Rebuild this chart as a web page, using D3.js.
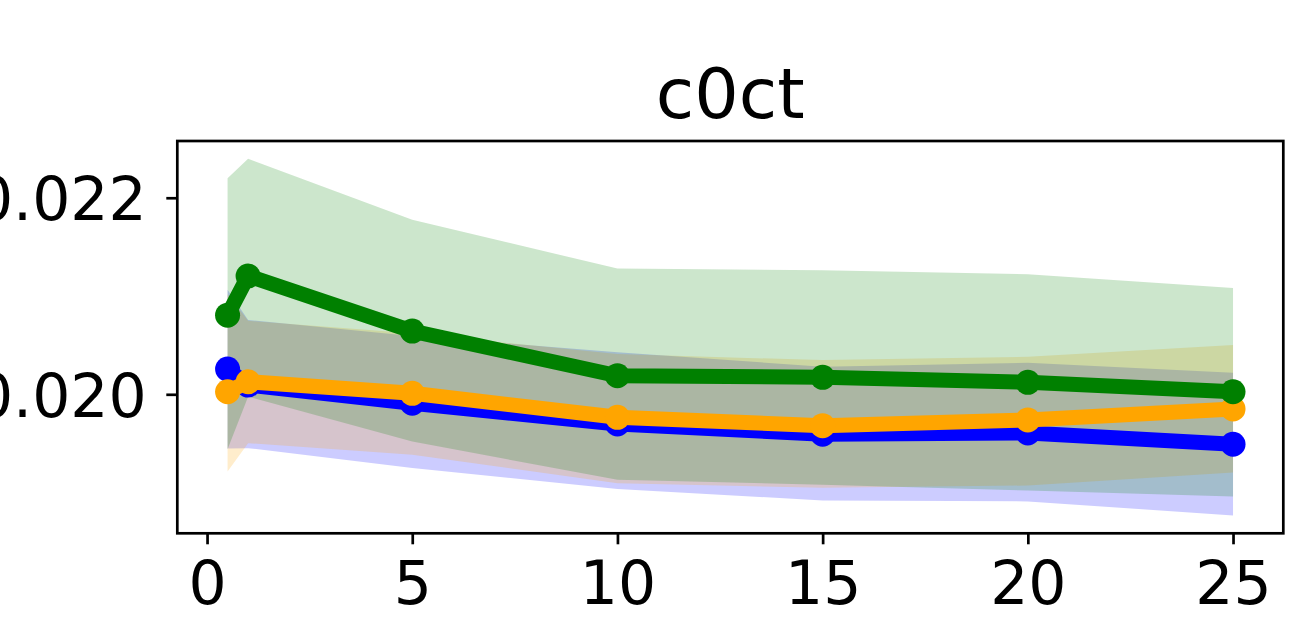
<!DOCTYPE html>
<html>
<head>
<meta charset="utf-8">
<script src="https://cdn.jsdelivr.net/npm/d3@7"></script>
<style>
  html, body { margin: 0; padding: 0; background: #fff; }
  svg { display: block; font-family: "DejaVu Sans", sans-serif; }
</style>
</head>
<body>
<svg id="chart" width="1305" height="635"></svg>
<script>
// Sample points along the x axis
const xs = [0.5, 1, 5, 10, 15, 20, 25];

// Blue series: mean with lower / upper envelope
const blueMean  = [0.020257, 0.020094, 0.019909, 0.019698, 0.019594, 0.019607, 0.019492];
const blueUpper = [0.021064, 0.020756, 0.020592, 0.020429, 0.020280, 0.020321, 0.020219];
const blueLower = [0.019448, 0.019452, 0.019249, 0.019036, 0.018920, 0.018910, 0.018767];

// Orange series
const orangeMean  = [0.020026, 0.020128, 0.020010, 0.019766, 0.019681, 0.019739, 0.019851];
const orangeUpper = [0.021018, 0.020748, 0.020622, 0.020409, 0.020348, 0.020382, 0.020501];
const orangeLower = [0.019214, 0.019503, 0.019384, 0.019096, 0.019049, 0.019072, 0.019204];

// Green series
const greenMean  = [0.020805, 0.021204, 0.020643, 0.020189, 0.020173, 0.020122, 0.020026];
const greenUpper = [0.022199, 0.022396, 0.021777, 0.021279, 0.021262, 0.021221, 0.021082];
const greenLower = [0.019442, 0.019976, 0.019519, 0.019130, 0.019079, 0.019021, 0.018960];

// Axis ticks
const xTicks = [0, 5, 10, 15, 20, 25];
const yTicks = [0.020, 0.022];
const title = "c0ct";

const series = [
  { color: "#0000ff", mean: blueMean,   lo: blueLower,   hi: blueUpper },
  { color: "#ffa500", mean: orangeMean, lo: orangeLower, hi: orangeUpper },
  { color: "#008000", mean: greenMean,  lo: greenLower,  hi: greenUpper }
];

// Plot frame
const frame = { left: 177.3, right: 1283.3, top: 141, bottom: 533.3 };
const svg = d3.select("#chart");

// Domains with a 5% margin on each side
function padded(lo, hi) {
  const m = (hi - lo) * 0.05;
  return [lo - m, hi + m];
}
const xExt = d3.extent(xs);
const allY = series.flatMap(s => s.lo.concat(s.hi, s.mean));
const yExt = d3.extent(allY);

const x = d3.scaleLinear().domain(padded(xExt[0], xExt[1])).range([frame.left, frame.right]);
const y = d3.scaleLinear().domain(padded(yExt[0], yExt[1])).range([frame.bottom, frame.top]);

const plot = svg.append("g");

// Shaded envelopes first, all beneath the lines
const area = d3.area()
  .x(d => x(d.x))
  .y0(d => y(d.lo))
  .y1(d => y(d.hi));

series.forEach(s => {
  const pts = xs.map((v, i) => ({ x: v, lo: s.lo[i], hi: s.hi[i] }));
  plot.append("path")
    .datum(pts)
    .attr("d", area)
    .attr("fill", s.color)
    .attr("fill-opacity", 0.2)
    .attr("stroke", "none");
});

// Mean lines with markers
const line = d3.line().x(d => x(d.x)).y(d => y(d.y));
series.forEach(s => {
  const pts = xs.map((v, i) => ({ x: v, y: s.mean[i] }));
  const g = plot.append("g");
  g.append("path")
    .datum(pts)
    .attr("d", line)
    .attr("fill", "none")
    .attr("stroke", s.color)
    .attr("stroke-width", 15)
    .attr("stroke-linejoin", "round");
  g.selectAll("circle")
    .data(pts)
    .join("circle")
    .attr("cx", d => x(d.x))
    .attr("cy", d => y(d.y))
    .attr("r", 12.5)
    .attr("fill", s.color);
});

// Axes
const fontSize = 60;
const xAxis = d3.axisBottom(x)
  .tickValues(xTicks)
  .tickFormat(d3.format("d"))
  .tickSize(11)
  .tickPadding(17);
const yAxis = d3.axisLeft(y)
  .tickValues(yTicks)
  .tickFormat(d3.format(".3f"))
  .tickSize(11)
  .tickPadding(19.6);

const gx = svg.append("g")
  .attr("transform", `translate(0,${frame.bottom})`)
  .call(xAxis);
const gy = svg.append("g")
  .attr("transform", `translate(${frame.left},0)`)
  .call(yAxis);

[gx, gy].forEach(g => {
  g.select(".domain").remove();
  g.selectAll(".tick line").attr("stroke", "#000").attr("stroke-width", 2.7);
  g.selectAll(".tick text")
    .attr("fill", "#000")
    .style("font-family", "'DejaVu Sans', sans-serif")
    .style("font-size", fontSize + "px");
});
gy.selectAll(".tick text").attr("dy", "0.365em");

// Frame around the plotting area
svg.append("rect")
  .attr("x", frame.left)
  .attr("y", frame.top)
  .attr("width", frame.right - frame.left)
  .attr("height", frame.bottom - frame.top)
  .attr("fill", "none")
  .attr("stroke", "#000")
  .attr("stroke-width", 2.7);

// Title
svg.append("text")
  .attr("x", (frame.left + frame.right) / 2)
  .attr("y", 118.3)
  .attr("text-anchor", "middle")
  .style("font-family", "'DejaVu Sans', sans-serif")
  .style("font-size", "70px")
  .attr("fill", "#000")
  .text(title);
</script>
</body>
</html>
